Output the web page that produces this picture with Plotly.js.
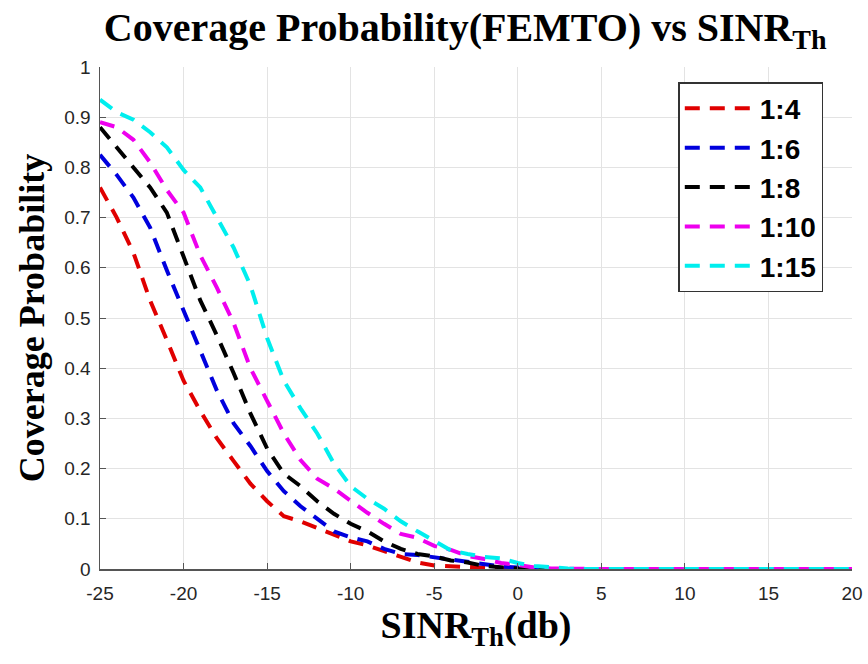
<!DOCTYPE html>
<html>
<head>
<meta charset="utf-8">
<script src="https://cdn.plot.ly/plotly-3.0.1.min.js"></script>
<style>html,body{margin:0;padding:0;background:#fff;}#chart{width:868px;height:664px;}</style>
</head>
<body>
<div id="chart"></div>
<script>
const sinr = [-25,-24,-23,-22,-21,-20,-19,-18,-17,-16,-15,-14,-13,-12,-11,-10,-9,-8,-7,-6,-5,-4,-3,-2,-1,0,1,2,3,4,5,6,7,8,9,10,11,12,13,14,15,16,17,18,19,20];
const r4  = [0.76,0.70,0.63,0.535,0.456,0.375,0.315,0.26,0.215,0.17,0.135,0.105,0.095,0.082,0.07,0.055,0.047,0.036,0.025,0.013,0.007,0.005,0.004,0.003,0.001,0,0,0,0,0,0,0,0,0,0,0,0,0,0,0,0,0,0,0,0,0];
const r6  = [0.825,0.785,0.74,0.68,0.595,0.515,0.44,0.355,0.29,0.245,0.195,0.155,0.125,0.10,0.075,0.063,0.055,0.04,0.03,0.028,0.023,0.019,0.015,0.01,0.005,0.003,0.001,0,0,0,0,0,0,0,0,0,0,0,0,0,0,0,0,0,0,0];
const r8  = [0.88,0.84,0.80,0.76,0.71,0.625,0.535,0.465,0.39,0.31,0.24,0.19,0.165,0.135,0.11,0.09,0.075,0.055,0.04,0.03,0.025,0.017,0.013,0.006,0.003,0.001,0,0,0,0,0,0,0,0,0,0,0,0,0,0,0,0,0,0,0,0];
const r10 = [0.89,0.88,0.855,0.81,0.755,0.71,0.625,0.56,0.49,0.40,0.335,0.27,0.217,0.18,0.16,0.135,0.112,0.09,0.07,0.062,0.046,0.038,0.026,0.02,0.012,0.008,0.003,0.001,0,0,0,0,0,0,0,0,0,0,0,0,0,0,0,0,0,0];
const r15 = [0.935,0.91,0.895,0.87,0.84,0.795,0.76,0.70,0.64,0.565,0.46,0.375,0.32,0.27,0.21,0.165,0.14,0.12,0.095,0.075,0.055,0.037,0.03,0.024,0.021,0.012,0.006,0.003,0.001,0,0,0,0,0,0,0,0,0,0,0,0,0,0,0,0,0,0,0];
const names = ['1:4','1:6','1:8','1:10','1:15'];
const colors = ['#e00000','#0000dd','#000000','#ee00ee','#00eeee'];
const series = [r4, r6, r8, r10, r15];
const xTicks = [-25,-20,-15,-10,-5,0,5,10,15,20];
const yTicks = [0,0.1,0.2,0.3,0.4,0.5,0.6,0.7,0.8,0.9,1];
const yTickText = ['0','0.1','0.2','0.3','0.4','0.5','0.6','0.7','0.8','0.9','1'];

const traces = series.map((s, i) => ({
  x: sinr, y: s, name: names[i], type: 'scatter', mode: 'lines',
  line: {color: colors[i], width: 4, dash: '15px,10px'}
}));

const serif = 'Liberation Serif, Times New Roman, serif';
const sans = 'Liberation Sans, Arial, sans-serif';
const layout = {
  width: 868, height: 664,
  margin: {l: 100, r: 16, t: 67, b: 95},
  paper_bgcolor: '#fff', plot_bgcolor: '#fff',
  showlegend: true,
  title: {
    text: '<b>Coverage Probability(FEMTO) vs SINR<sub>Th</sub></b>',
    font: {family: serif, size: 40, color: '#000'},
    x: 0.536, xanchor: 'center', y: 0.981, yanchor: 'top'
  },
  xaxis: {
    range: [-25, 20], tickvals: xTicks, ticktext: xTicks.map(String),
    showgrid: true, gridcolor: '#e3e3e3', gridwidth: 1,
    zeroline: false, showline: true, linecolor: '#555', linewidth: 1.5,
    ticks: 'inside', ticklen: 6, tickcolor: '#555',
    ticklabelstandoff: 7,
    tickfont: {family: sans, size: 19, color: '#262626'},
    title: {text: '<b>SINR<sub>Th</sub>(db)</b>', font: {family: serif, size: 38, color: '#000'}, standoff: 8}
  },
  yaxis: {
    range: [0, 1], tickvals: yTicks, ticktext: yTickText,
    showgrid: true, gridcolor: '#e3e3e3', gridwidth: 1,
    zeroline: false, showline: true, linecolor: '#555', linewidth: 1.5,
    ticks: 'inside', ticklen: 6, tickcolor: '#555',
    ticklabelstandoff: 4,
    tickfont: {family: sans, size: 19, color: '#262626'},
    title: {text: '<b>Coverage Probability</b>', font: {family: serif, size: 36, color: '#000'}, standoff: 8}
  },
  legend: {
    x: 0.769, y: 0.97, xanchor: 'left', yanchor: 'top',
    bgcolor: '#fff', bordercolor: '#333', borderwidth: 1.5,
    font: {family: sans, size: 28, color: '#000', weight: 'bold'},
    itemwidth: 70
  }
};
Plotly.newPlot('chart', traces, layout, {displayModeBar: false, staticPlot: true});
</script>
</body>
</html>
